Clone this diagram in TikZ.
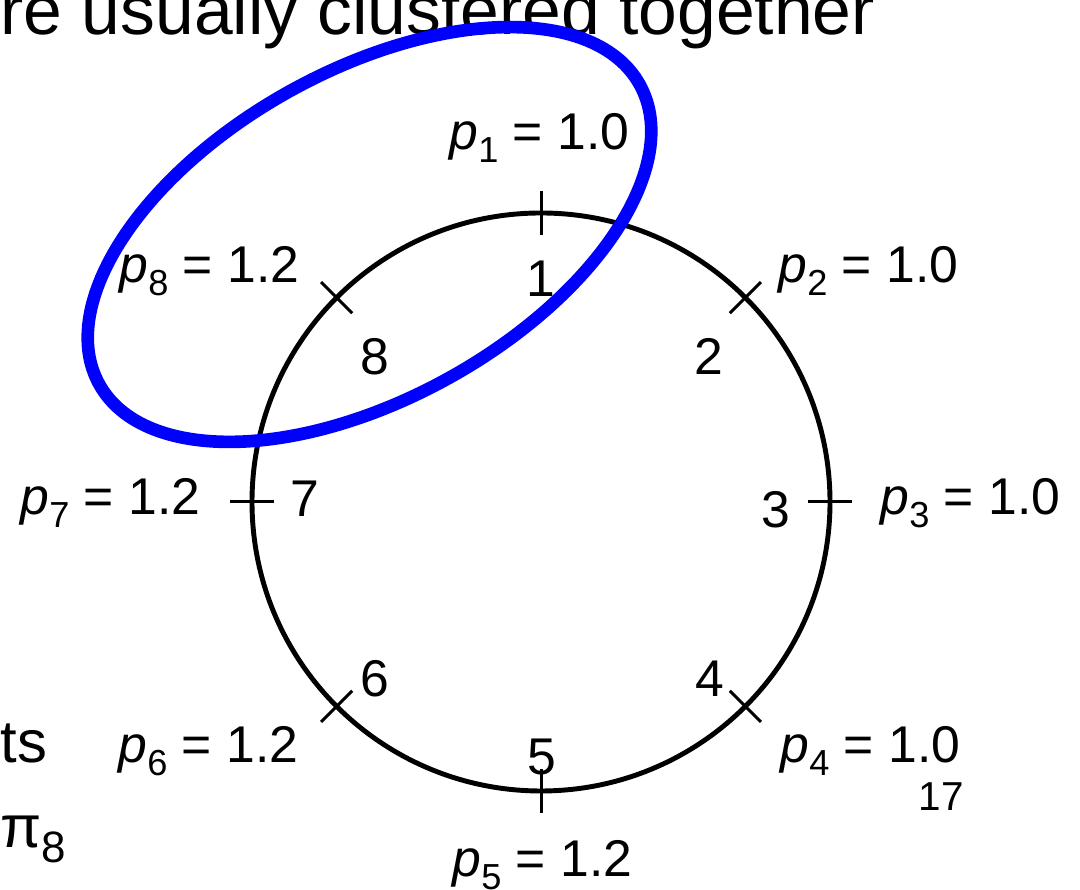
\documentclass[tikz,border=0pt]{standalone}
\usepackage{fontspec}
\setmainfont{Liberation Sans}
\usepackage{tikz}
\usetikzlibrary{positioning, calc}

% probability label: p_i = value
\newcommand{\plab}[2]{\textit{p}\raisebox{-0.25em}{\fontsize{10.3}{12}\selectfont #1} = #2}

\tikzset{
  ringnum/.style={inner sep=0pt, anchor=base, font=\fontsize{14.7}{17}\selectfont},
  problab/.style={inner sep=0pt, anchor=base west, font=\fontsize{14.7}{17}\selectfont},
  slidetxt/.style={inner sep=0pt, anchor=base west, font=\fontsize{19.8}{23}\selectfont},
}

\begin{document}
\begin{tikzpicture}[>=latex]
    \useasboundingbox (0,0) rectangle (10.8,8.9);

    % slide text cut off at the edges
    \node[slidetxt] (head) at (0,8.55) {re usually clustered together};
    \node[slidetxt, font=\fontsize{17}{20}\selectfont] (ts) at (0,1.27) {ts};
    \node[slidetxt, font=\fontsize{17}{20}\selectfont] (pi) at (0,0.42) {π\raisebox{-0.25em}{\fontsize{12.5}{14}\selectfont 8}};

    % the ring
    \coordinate (c) at (5.41,3.88);
    \draw[line width=1.4pt] (c) circle (2.89);
    \foreach \a in {90,45,0,-45,-90,-135,180,135}
        \draw[line width=0.85pt] ($(c)+(\a:2.67)$) -- ($(c)+(\a:3.11)$);

    % positions on the ring
    \node[ringnum] (n1) at (5.41,5.93) {1};
    \node[ringnum] (n2) at (7.09,5.15) {2};
    \node[ringnum] (n3) at (7.76,3.62) {3};
    \node[ringnum] (n4) at (7.10,1.93) {4};
    \node[ringnum] (n5) at (5.42,1.15) {5};
    \node[ringnum] (n6) at (3.75,1.93) {6};
    \node[ringnum] (n7) at (3.05,3.73) {7};
    \node[ringnum] (n8) at (3.75,5.15) {8};

    % probabilities
    \node[problab] (p1) at (4.49,7.40) {\plab{1}{1.0}};
    \node[problab] (p2) at (7.78,6.07) {\plab{2}{1.0}};
    \node[problab] (p3) at (8.80,3.75) {\plab{3}{1.0}};
    \node[problab] (p4) at (7.80,1.27) {\plab{4}{1.0}};
    \node[problab] (p5) at (4.52,0.13) {\plab{5}{1.2}};
    \node[problab] (p6) at (1.18,1.27) {\plab{6}{1.2}};
    \node[problab] (p7) at (0.20,3.75) {\plab{7}{1.2}};
    \node[problab] (p8) at (1.19,6.07) {\plab{8}{1.2}};

    \node[inner sep=0pt, anchor=base west, font=\fontsize{11.5}{13}\selectfont] (pg) at (9.18,0.79) {17};

    % cluster
    \draw[blue, line width=3.6pt, rotate around={29:(3.695,6.555)}]
        (3.695,6.555) ellipse (3.09 and 1.64);
\end{tikzpicture}
\end{document}
